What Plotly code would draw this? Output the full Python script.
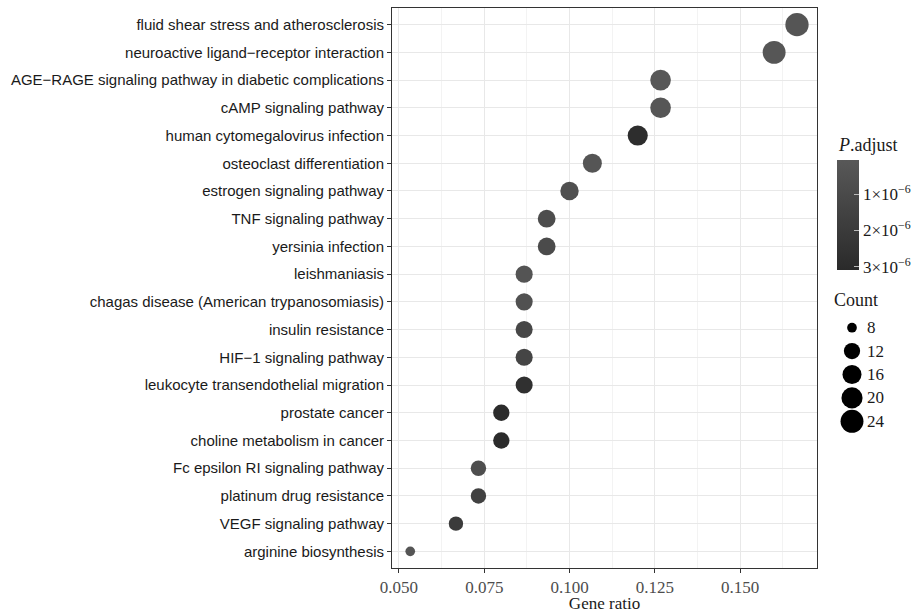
import plotly.graph_objects as go
import math

# ---------------- data ----------------
pathways = [
    "fluid shear stress and atherosclerosis",
    "neuroactive ligand−receptor interaction",
    "AGE−RAGE signaling pathway in diabetic complications",
    "cAMP signaling pathway",
    "human cytomegalovirus infection",
    "osteoclast differentiation",
    "estrogen signaling pathway",
    "TNF signaling pathway",
    "yersinia infection",
    "leishmaniasis",
    "chagas disease (American trypanosomiasis)",
    "insulin resistance",
    "HIF−1 signaling pathway",
    "leukocyte transendothelial migration",
    "prostate cancer",
    "choline metabolism in cancer",
    "Fc epsilon RI signaling pathway",
    "platinum drug resistance",
    "VEGF signaling pathway",
    "arginine biosynthesis",
]
gene_ratio = [0.1667, 0.1600, 0.1267, 0.1267, 0.1200, 0.1067, 0.1000, 0.0933, 0.0933, 0.0867,
              0.0867, 0.0867, 0.0867, 0.0867, 0.0800, 0.0800, 0.0733, 0.0733, 0.0667, 0.0533]
counts = [25, 24, 19, 19, 18, 16, 15, 14, 14, 13, 13, 13, 13, 13, 12, 12, 11, 11, 10, 8]
p_adjust = [2.5e-7, 2.0e-7, 1.5e-7, 2.0e-7, 2.9e-6, 2.5e-7, 6.0e-7, 8.0e-7, 9.0e-7, 3.0e-7,
            5.0e-7, 1.2e-6, 1.3e-6, 2.7e-6, 3.0e-6, 3.0e-6, 7.0e-7, 1.6e-6, 2.0e-6, 2.5e-7]

x_ticks = [0.050, 0.075, 0.100, 0.125, 0.150]
x_ticklabels = ["0.050", "0.075", "0.100", "0.125", "0.150"]
p_ticks = [1e-6, 2e-6, 3e-6]
p_ticklabels = ["1×10<sup>−6</sup>", "2×10<sup>−6</sup>", "3×10<sup>−6</sup>"]
count_breaks = [8, 12, 16, 20, 24]

# ---------------- styling helpers ----------------
W, H = 912, 613
SERIF = "Liberation Serif, Times New Roman, serif"
SANS = "Liberation Sans, Arial, sans-serif"
P_MIN, P_MAX = 0.055e-6, 3.09e-6
D_MIN, D_MAX = 9.7, 23.3
C_LO, C_HI = min(counts), max(counts)


def diam(c):
    return D_MIN + (D_MAX - D_MIN) * math.sqrt((c - C_LO) / (C_HI - C_LO))


def px_x(px):
    return px / W


def px_y(py):
    return 1 - py / H


colorscale = [[0, "#2a2a2a"], [1, "#585858"]]

fig = go.Figure()

fig.add_trace(go.Scatter(
    x=gene_ratio, y=pathways, mode="markers",
    marker=dict(
        size=[diam(c) for c in counts],
        color=[-p for p in p_adjust],
        colorscale=colorscale, cmin=-P_MAX, cmax=-P_MIN,
        line=dict(width=0), opacity=1,
        colorbar=dict(
            x=px_x(837), xanchor="left", y=px_y(215), yanchor="middle",
            thickness=22, thicknessmode="pixels", len=110, lenmode="pixels",
            xpad=0, ypad=0, outlinewidth=0,
            tickvals=[-v for v in p_ticks], ticktext=p_ticklabels,
            ticks="inside", ticklen=5, tickcolor="#bbbbbb", tickwidth=1,
            tickfont=dict(family=SERIF, size=17, color="#1a1a1a"),
        ),
    ),
    showlegend=False, hoverinfo="x+y",
))

# size legend keys
fig.add_trace(go.Scatter(
    x=[0] * len(count_breaks), y=list(range(len(count_breaks))),
    xaxis="x2", yaxis="y2", mode="markers",
    marker=dict(size=[diam(c) for c in count_breaks], color="#000000", opacity=1,
                line=dict(width=0)),
    showlegend=False, hoverinfo="skip",
))

annotations = []
for i, c in enumerate(count_breaks):
    annotations.append(dict(
        x=px_x(865), xref="paper", y=i, yref="y2", xanchor="left", yanchor="middle",
        text=str(c), showarrow=False, font=dict(family=SERIF, size=17, color="#1a1a1a"),
    ))
annotations.append(dict(
    x=px_x(832), xref="paper", y=px_y(300), yref="paper", xanchor="left", yanchor="middle",
    text="Count", showarrow=False, font=dict(family=SERIF, size=18, color="#1a1a1a"),
))
annotations.append(dict(
    x=px_x(836), xref="paper", y=px_y(145), yref="paper", xanchor="left", yanchor="middle",
    text="<i>P</i>.adjust", showarrow=False, font=dict(family=SERIF, size=18, color="#1a1a1a"),
))

n = len(pathways)
fig.update_layout(
    width=W, height=H,
    margin=dict(l=0, r=0, t=0, b=0, autoexpand=False),
    paper_bgcolor="white", plot_bgcolor="white",
    annotations=annotations,
    xaxis=dict(
        domain=[px_x(392), px_x(817)], range=[0.04795, 0.17257],
        tickvals=x_ticks, ticktext=x_ticklabels,
        showgrid=True, gridcolor="#E8E8E8", gridwidth=1.4,
        minor=dict(dtick=0.025, tick0=0.0625, showgrid=True, gridcolor="#F3F3F3", gridwidth=1),
        zeroline=False, showline=True, mirror=True, linecolor="#333333", linewidth=1,
        ticks="outside", ticklen=4, tickcolor="#333333",
        tickfont=dict(family=SERIF, size=17, color="#4d4d4d"),
        title=dict(text="Gene ratio", font=dict(family=SERIF, size=17, color="#1a1a1a"), standoff=2),
        automargin=False,
    ),
    yaxis=dict(
        domain=[px_y(568), px_y(8)],
        type="category", categoryorder="array", categoryarray=pathways,
        range=[n - 0.4, -0.6],
        showgrid=True, gridcolor="#E8E8E8", gridwidth=1.4,
        zeroline=False, showline=True, mirror=True, linecolor="#333333", linewidth=1,
        ticks="outside", ticklen=4, tickcolor="#333333",
        tickfont=dict(family=SANS, size=15, color="#1a1a1a"),
        automargin=False,
    ),
    xaxis2=dict(domain=[px_x(836), px_x(868)], range=[-1, 1], visible=False, anchor="y2"),
    yaxis2=dict(domain=[px_y(433), px_y(316)], range=[len(count_breaks) - 0.5, -0.5],
                visible=False, anchor="x2"),
)

fig.write_html("out.html")
